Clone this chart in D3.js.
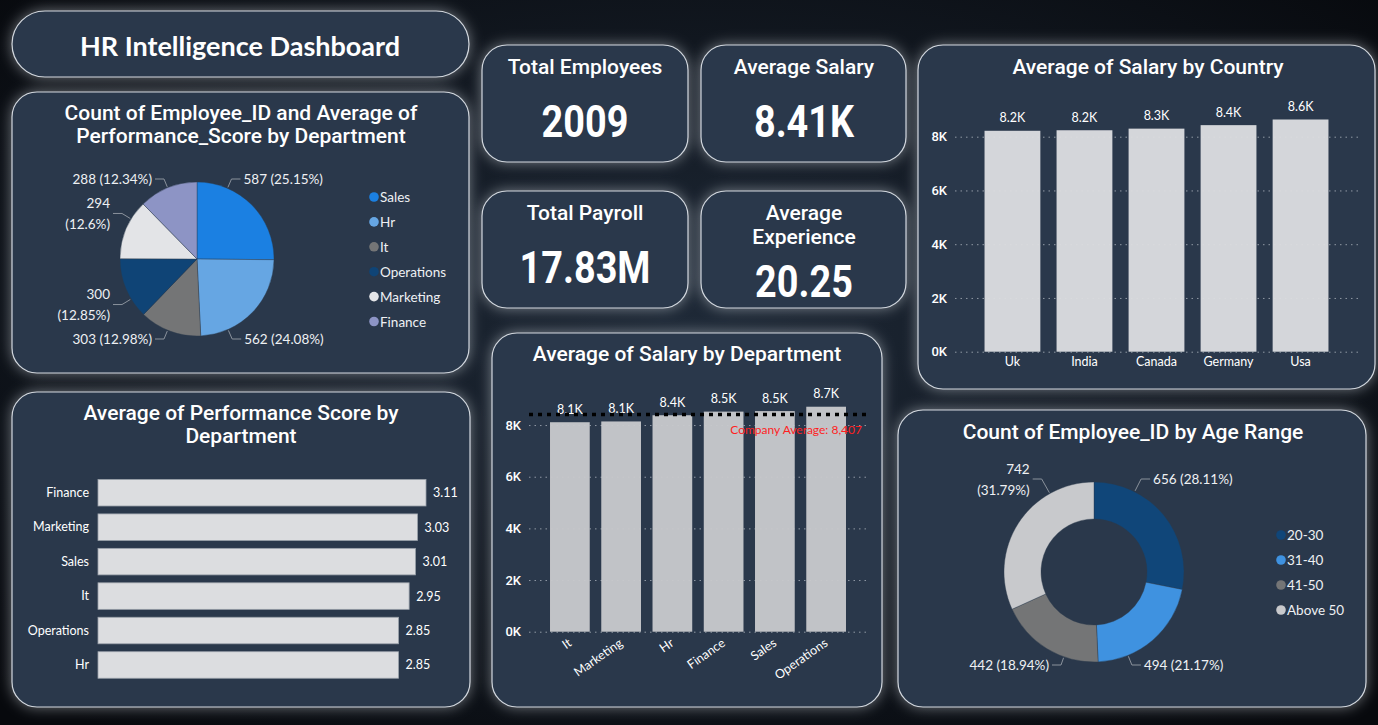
<!DOCTYPE html>
<html>
<head>
<meta charset="utf-8">
<script src="https://cdn.jsdelivr.net/npm/d3@7"></script>
<style>
body { margin: 0; background: #080b10; overflow: hidden; }
svg { display: block; }
.ttl { font: 500 21px Roboto, sans-serif; fill: #fff; }
.lbl { font: 12.5px Lato, sans-serif; fill: #fff; }
.sl  { font: 13.5px Lato, sans-serif; fill: #eef0f3; }
.tick text { font: 500 13px Roboto, sans-serif; fill: #fff; }
.cat .tick text { font: 12.5px Lato, sans-serif; fill: #fff; }
</style>
</head>
<body>
<svg id="dash" width="1378" height="725"></svg>
<script>
// ---- data ----
const deptNames = ["Sales", "Hr", "It", "Operations", "Marketing", "Finance"];
const deptCounts = [587, 562, 303, 300, 294, 288];
const deptColors = ["#1b80e2", "#66a6e3", "#747576", "#0f4476", "#e3e4e7", "#8d94c5"];

const perfDepts = ["Finance", "Marketing", "Sales", "It", "Operations", "Hr"];
const perfScores = [3.11, 3.03, 3.01, 2.95, 2.85, 2.85];

const salaryDepts = ["It", "Marketing", "Hr", "Finance", "Sales", "Operations"];
const salaryByDept = [8110, 8140, 8380, 8520, 8540, 8710];
const companyAverage = 8407;

const countries = ["Uk", "India", "Canada", "Germany", "Usa"];
const salaryByCountry = [8220, 8240, 8300, 8430, 8640];

const ageRanges = ["20-30", "31-40", "41-50", "Above 50"];
const ageCounts = [656, 494, 442, 742];
const ageColors = ["#104679", "#3f92e0", "#747576", "#c8c9cc"];

const kpiLabels = [["Total Employees"], ["Average Salary"], ["Total Payroll"], ["Average", "Experience"]];
const kpiValues = ["2009", "8.41K", "17.83M", "20.25"];

const salaryTicks = [0, 2000, 4000, 6000, 8000];

const W = 1378, H = 725;
const svg = d3.select("#dash");
const defs = svg.append("defs");

const glow = defs.append("filter").attr("id", "glow")
    .attr("x", "-20%").attr("y", "-30%").attr("width", "140%").attr("height", "160%");
glow.append("feDropShadow").attr("dx", 0).attr("dy", 0).attr("stdDeviation", 7)
    .attr("flood-color", "#d5dbe3").attr("flood-opacity", 0.5);

const bg = defs.append("radialGradient").attr("id", "bg").attr("cx", "50%").attr("cy", "45%").attr("r", "70%");
bg.append("stop").attr("offset", "0%").attr("stop-color", "#1e2937");
bg.append("stop").attr("offset", "100%").attr("stop-color", "#07090d");
svg.append("rect").attr("width", W).attr("height", H).attr("fill", "url(#bg)");

function panel(x, y, w, h, r) {
    svg.append("rect")
        .attr("x", x).attr("y", y).attr("width", w).attr("height", h).attr("rx", r)
        .attr("fill", "#2a394b").attr("stroke", "#d3d8df").attr("stroke-width", 1.2)
        .attr("filter", "url(#glow)");
}

function title(lines, cx, y0, cls = "ttl", gap = 23) {
    lines.forEach((t, i) => svg.append("text")
        .attr("class", cls)
        .attr("x", cx).attr("y", y0 + i * gap)
        .attr("text-anchor", "middle").attr("dominant-baseline", "central")
        .text(t));
}

const pct = v => d3.format(".2f")(v).replace(/\.?0+$/, "");
const kFmt = v => d3.format(".1f")(v / 1000) + "K";

// ---- panels ----
panel(12, 11, 457, 66, 33);
panel(12, 92, 457, 281, 25);
panel(12, 392, 458, 315, 25);
panel(482, 45, 206, 117, 25);
panel(701, 45, 205, 117, 25);
panel(482, 191, 206, 117, 25);
panel(701, 191, 205, 117, 25);
panel(492, 333, 390, 374, 25);
panel(918, 45, 457, 344, 25);
panel(898, 410, 468, 297, 25);

svg.append("text")
    .attr("x", 240).attr("y", 45)
    .attr("text-anchor", "middle").attr("dominant-baseline", "central")
    .style("font", "700 27px Lato, sans-serif").style("fill", "#fff")
    .text("HR Intelligence Dashboard");

// ---- KPI cards ----
const kpiBoxes = [[482, 45], [701, 45], [482, 191], [701, 191]];
kpiBoxes.forEach(([x, y], i) => {
    const cx = x + 103;
    title(kpiLabels[i], cx, y + 22, "ttl", 24);
    const vy = kpiLabels[i].length > 1 ? y + 91 : y + 77;
    svg.append("text")
        .attr("transform", `translate(${cx},${vy}) scale(0.86,1)`)
        .attr("text-anchor", "middle").attr("dominant-baseline", "central")
        .style("font", "700 44px Roboto, sans-serif").style("fill", "#fff")
        .text(kpiValues[i]);
});

// ---- slice labels shared by pie + donut ----
function sliceLabels(g, arcs, r, texts) {
    arcs.forEach((a, i) => {
        const mid = (a.startAngle + a.endAngle) / 2;
        const sx = Math.sin(mid), sy = -Math.cos(mid);
        const side = sx >= 0 ? 1 : -1;
        const snapped = Math.abs(sy) >= 0.5;
        let lx, ly;
        if (snapped) {
            ly = Math.sign(sy) * (r + 3);
            lx = side * Math.max(r * Math.abs(sx) * 0.85, 45);
        } else {
            ly = sy * (r + 40);
            lx = side * (r + 10);
        }
        const lines = Math.abs(sx) > 0.8 ? texts[i].split(" ") : [texts[i]];
        const p2 = [lx - side * 12, ly];
        const n = Math.hypot(p2[0], p2[1]);
        const p1 = [p2[0] / n * (r + 1), p2[1] / n * (r + 1)];
        g.append("polyline")
            .attr("points", [p1, p2, [lx - side * 3, ly]].map(p => p.join(",")).join(" "))
            .attr("fill", "none").attr("stroke", "#8a929c").attr("stroke-width", 1);
        lines.forEach((t, j) => g.append("text")
            .attr("class", "sl")
            .attr("x", lx).attr("y", ly + (j - (lines.length - 1) / 2) * 21)
            .attr("text-anchor", side > 0 ? "start" : "end")
            .attr("dominant-baseline", "central")
            .text(t));
    });
}

function legend(names, colors, x, y0, step) {
    names.forEach((n, i) => {
        svg.append("circle").attr("cx", x).attr("cy", y0 + i * step).attr("r", 4.8).attr("fill", colors[i]);
        svg.append("text").attr("class", "sl")
            .attr("x", x + 6).attr("y", y0 + i * step)
            .attr("dominant-baseline", "central").text(n);
    });
}

// ---- pie: count by department ----
title(["Count of Employee_ID and Average of", "Performance_Score by Department"], 241, 113);
const pieTotal = d3.sum(deptCounts);
const pieArcs = d3.pie().sort(null).value(d => d)(deptCounts);
const pr = 77;
const gPie = svg.append("g").attr("transform", "translate(197,259)");
gPie.selectAll("path").data(pieArcs).join("path")
    .attr("d", d3.arc().innerRadius(0).outerRadius(pr))
    .attr("fill", (d, i) => deptColors[i])
    .attr("stroke", "#2a394b").attr("stroke-width", 0.4);
sliceLabels(gPie, pieArcs, pr, deptCounts.map(v => `${v} (${pct(v / pieTotal * 100)}%)`));
legend(deptNames, deptColors, 374, 197, 24.9);

// ---- horizontal bars: performance score ----
title(["Average of Performance Score by", "Department"], 241, 413);
const xP = d3.scaleLinear().domain([0, d3.max(perfScores)]).range([98, 426]);
const yP = d3.scaleBand().domain(perfDepts).range([475.5, 682.2]).paddingInner(0.23).paddingOuter(0.115);
svg.append("g").selectAll("rect").data(perfDepts).join("rect")
    .attr("x", xP(0)).attr("y", d => yP(d))
    .attr("width", (d, i) => xP(perfScores[i]) - xP(0)).attr("height", yP.bandwidth())
    .attr("fill", "#dcdde0").attr("stroke", "#9aa1aa").attr("stroke-width", 0.8);
svg.append("g").selectAll("text").data(perfDepts).join("text")
    .attr("class", "lbl")
    .attr("x", (d, i) => xP(perfScores[i]) + 7).attr("y", d => yP(d) + yP.bandwidth() / 2)
    .attr("dominant-baseline", "central")
    .text((d, i) => d3.format(".2f")(perfScores[i]));
const axP = svg.append("g").attr("class", "cat").attr("transform", "translate(98,0)")
    .call(d3.axisLeft(yP).tickSize(0).tickPadding(9));
axP.select(".domain").remove();

// ---- vertical bars helper ----
function columnChart(cats, vals, xr, y0, pxPerK, axisX, rotate) {
    const x = d3.scaleBand().domain(cats).range(xr).paddingInner(0.225).paddingOuter(0.41);
    const y = d3.scaleLinear().domain([0, 9000]).range([y0, y0 - 9 * pxPerK]);
    const ax = svg.append("g").attr("transform", `translate(${xr[0]},0)`)
        .call(d3.axisLeft(y).tickValues(salaryTicks).tickFormat(d => d / 1000 + "K")
            .tickSize(-(xr[1] - xr[0])).tickPadding(axisX));
    ax.select(".domain").remove();
    ax.selectAll(".tick line").attr("stroke", "#aab2bc").attr("stroke-dasharray", "1.5,4").attr("opacity", 0.8);
    const fill = rotate ? "#c8c9cc" : "#dcdde0";
    svg.append("g").selectAll("rect").data(cats).join("rect")
        .attr("x", d => x(d)).attr("y", (d, i) => y(vals[i]))
        .attr("width", x.bandwidth()).attr("height", (d, i) => y(0) - y(vals[i]))
        .attr("fill", fill).attr("opacity", 0.96);
    svg.append("g").selectAll("text").data(cats).join("text")
        .attr("class", "lbl")
        .attr("x", d => x(d) + x.bandwidth() / 2).attr("y", (d, i) => y(vals[i]) - 13)
        .attr("text-anchor", "middle").attr("dominant-baseline", "central")
        .text((d, i) => kFmt(vals[i]));
    const bx = svg.append("g").attr("class", "cat").attr("transform", `translate(0,${y0})`)
        .call(d3.axisBottom(x).tickSize(0).tickPadding(rotate ? 6 : 5));
    bx.select(".domain").remove();
    if (rotate) {
        bx.selectAll(".tick text")
            .attr("text-anchor", "end")
            .attr("transform", "translate(-4,4) rotate(-35)")
            .attr("dy", "0.9em").attr("y", 0);
    }
    return { x, y };
}

// ---- salary by department ----
title(["Average of Salary by Department"], 687, 354);
const dep = columnChart(salaryDepts, salaryByDept, [529, 867], 631.7, 25.83, 8, true);
svg.append("line")
    .attr("x1", 529).attr("x2", 867)
    .attr("y1", dep.y(companyAverage)).attr("y2", dep.y(companyAverage))
    .attr("stroke", "#000").attr("stroke-width", 3.5).attr("stroke-dasharray", "4,5");
svg.append("text")
    .attr("x", 862).attr("y", dep.y(companyAverage) + 15)
    .attr("text-anchor", "end").attr("dominant-baseline", "central")
    .style("font", "12px Lato, sans-serif").style("fill", "#ff1f1f")
    .text("Company Average: " + d3.format(",")(companyAverage));

// ---- salary by country ----
title(["Average of Salary by Country"], 1148, 67);
columnChart(countries, salaryByCountry, [955, 1358], 351.7, 26.875, 8, false);

// ---- donut: age range ----
title(["Count of Employee_ID by Age Range"], 1133, 432);
const ageTotal = d3.sum(ageCounts);
const ageArcs = d3.pie().sort(null).value(d => d)(ageCounts);
const dr = 90;
const gDon = svg.append("g").attr("transform", "translate(1094,572)");
gDon.selectAll("path").data(ageArcs).join("path")
    .attr("d", d3.arc().innerRadius(53).outerRadius(dr))
    .attr("fill", (d, i) => ageColors[i])
    .attr("stroke", "#2a394b").attr("stroke-width", 0.4);
sliceLabels(gDon, ageArcs, dr, ageCounts.map(v => `${v} (${pct(v / ageTotal * 100)}%)`));
legend(ageRanges, ageColors, 1281, 535, 25);
</script>
</body>
</html>
